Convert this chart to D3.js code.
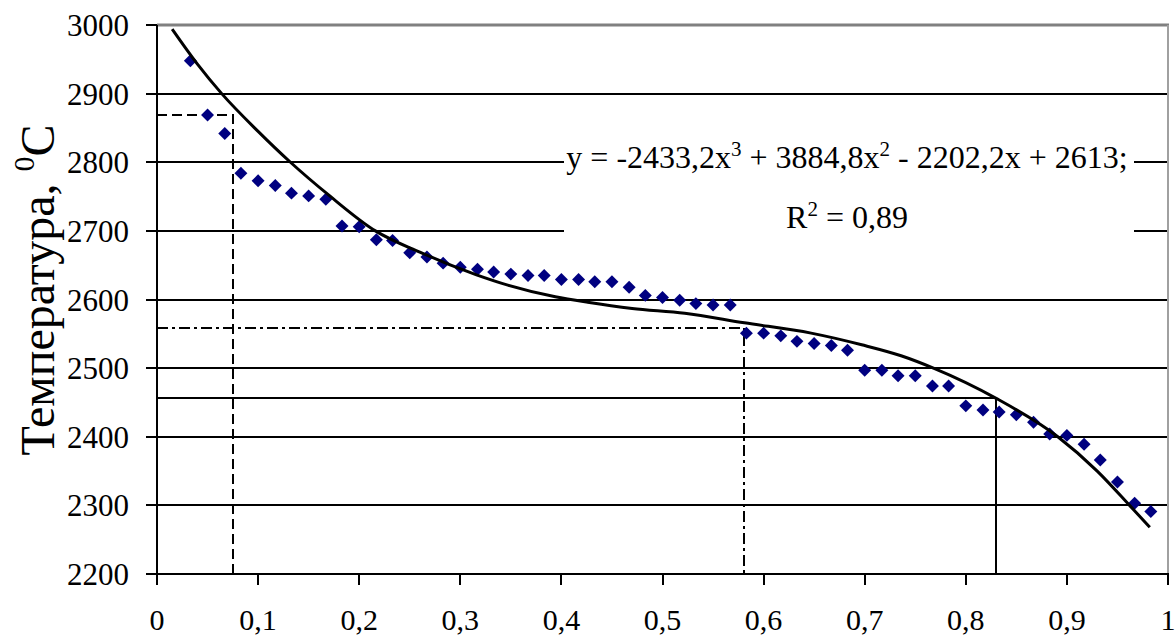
<!DOCTYPE html>
<html>
<head>
<meta charset="utf-8">
<script src="https://cdn.jsdelivr.net/npm/d3@7"></script>
<style>
  html, body { margin: 0; padding: 0; background: #fff; }
  svg { display: block; }
  text { font-family: "Liberation Serif", "Times New Roman", serif; fill: #000; }
</style>
</head>
<body>
<svg id="chart" width="1176" height="637"></svg>
<script>
// ---- data ----
const pointX = [0.033, 0.050, 0.067, 0.083, 0.100, 0.117, 0.133, 0.150, 0.167, 0.183,
  0.200, 0.217, 0.233, 0.250, 0.267, 0.283, 0.300, 0.317, 0.333, 0.350,
  0.367, 0.383, 0.400, 0.417, 0.433, 0.450, 0.467, 0.483, 0.500, 0.517,
  0.533, 0.550, 0.567, 0.583, 0.600, 0.617, 0.633, 0.650, 0.667, 0.683,
  0.700, 0.717, 0.733, 0.750, 0.767, 0.783, 0.800, 0.817, 0.833, 0.850,
  0.867, 0.883, 0.900, 0.917, 0.933, 0.950, 0.967, 0.983];
const pointY = [2948, 2869, 2842, 2784, 2773, 2766, 2755, 2751, 2746, 2707,
  2706, 2687, 2686, 2668, 2662, 2653, 2647, 2644, 2640, 2637,
  2635, 2635, 2629, 2629, 2626, 2626, 2618, 2606, 2603, 2599,
  2594, 2592, 2592, 2551, 2551, 2547, 2539, 2536, 2533, 2526,
  2497, 2497, 2489, 2489, 2474, 2474, 2445, 2439, 2436, 2432,
  2421, 2404, 2402, 2389, 2366, 2334, 2303, 2291];

// trendline
const trendX = [0.015, 0.040, 0.064, 0.100, 0.132, 0.170, 0.216, 0.260, 0.316, 0.347,
  0.394, 0.426, 0.470, 0.522, 0.581, 0.647, 0.697, 0.736, 0.768, 0.830,
  0.891, 0.930, 0.962, 0.982];
const trendY = [2994, 2943, 2900, 2845, 2800, 2752, 2700, 2669, 2636, 2621,
  2604, 2596, 2587, 2580, 2566, 2551, 2534, 2518, 2500, 2456,
  2400, 2350, 2300, 2268];

// reference (projection) lines: [x, y]
const refDashed = [0.0755, 2869];
const refDashDot = [0.581, 2558];
const refSolid = [0.830, 2456];

const xTickValues = [0, 0.1, 0.2, 0.3, 0.4, 0.5, 0.6, 0.7, 0.8, 0.9, 1];
const xTickLabels = ["0", "0,1", "0,2", "0,3", "0,4", "0,5", "0,6", "0,7", "0,8", "0,9", "1"];
const yTickValues = [2200, 2300, 2400, 2500, 2600, 2700, 2800, 2900, 3000];
const yTickLabels = ["2200", "2300", "2400", "2500", "2600", "2700", "2800", "2900", "3000"];

const yTitle = "Температура, ";
const yTitleSup = "0";
const yTitleUnit = "C";

// ---- layout ----
const svg = d3.select("#chart");
const x = d3.scaleLinear().domain([0, 1]).range([157, 1168]);
const y = d3.scaleLinear().domain([2200, 3000]).range([574, 25]);
const rx = v => Math.round(x(v));
const ry = v => Math.round(y(v));

svg.append("rect").attr("width", 1176).attr("height", 637).attr("fill", "#fff");

// gridlines
svg.append("g").selectAll("line")
  .data(yTickValues.filter(v => v > 2200 && v < 3000))
  .join("line")
  .attr("x1", rx(0)).attr("x2", rx(1))
  .attr("y1", d => ry(d)).attr("y2", d => ry(d))
  .attr("stroke", "#000").attr("stroke-width", 2);

// plot border (top, right)
svg.append("line").attr("x1", rx(0)).attr("x2", rx(1) + 1)
  .attr("y1", ry(3000)).attr("y2", ry(3000))
  .attr("stroke", "#808080").attr("stroke-width", 3);
svg.append("line").attr("x1", rx(1)).attr("x2", rx(1))
  .attr("y1", ry(3000)).attr("y2", ry(2200))
  .attr("stroke", "#a0a0a0").attr("stroke-width", 2);

// equation label background
svg.append("rect").attr("x", 564).attr("y", 138).attr("width", 570).attr("height", 104)
  .attr("fill", "#fff");

// reference lines
function refLine(p, dash, w) {
  const g = svg.append("g").attr("fill", "none").attr("stroke", "#000").attr("stroke-width", w);
  if (dash) g.attr("stroke-dasharray", dash);
  g.append("path").attr("d", d3.line()([[rx(0), ry(p[1])], [rx(p[0]), ry(p[1])], [rx(p[0]), ry(2200)]]));
}
refLine(refDashed, "10,5", 2);
refLine(refDashDot, "11,4,3,4", 2);
refLine(refSolid, null, 2);

// scatter points (diamonds)
const pts = pointX.map((v, i) => [v, pointY[i]]);
svg.append("g").selectAll("path")
  .data(pts)
  .join("path")
  .attr("d", d3.symbol(d3.symbolSquare, 84)())
  .attr("transform", d => `translate(${x(d[0])},${y(d[1])}) rotate(45)`)
  .attr("fill", "#000080");

// trend line
const trend = trendX.map((v, i) => [v, trendY[i]]);
svg.append("path")
  .attr("d", d3.line().x(d => x(d[0])).y(d => y(d[1])).curve(d3.curveMonotoneX)(trend))
  .attr("fill", "none").attr("stroke", "#000").attr("stroke-width", 3);

// axes lines
svg.append("line").attr("x1", rx(0)).attr("x2", rx(0)).attr("y1", ry(3000)).attr("y2", ry(2200) + 11)
  .attr("stroke", "#000").attr("stroke-width", 2);
svg.append("line").attr("x1", rx(0) - 11).attr("x2", rx(1) + 1).attr("y1", ry(2200)).attr("y2", ry(2200))
  .attr("stroke", "#000").attr("stroke-width", 2);

// y ticks
svg.append("g").selectAll("line").data(yTickValues).join("line")
  .attr("x1", rx(0) - 11).attr("x2", rx(0)).attr("y1", d => ry(d)).attr("y2", d => ry(d))
  .attr("stroke", "#000").attr("stroke-width", 2);
svg.append("g").selectAll("text").data(yTickValues).join("text")
  .attr("x", 129).attr("y", d => y(d) + 11)
  .attr("text-anchor", "end").attr("font-size", 31)
  .text((d, i) => yTickLabels[i]);

// x ticks
svg.append("g").selectAll("line").data(xTickValues).join("line")
  .attr("x1", d => rx(d)).attr("x2", d => rx(d)).attr("y1", ry(2200)).attr("y2", ry(2200) + 11)
  .attr("stroke", "#000").attr("stroke-width", 2);
svg.append("g").selectAll("text").data(xTickValues).join("text")
  .attr("x", d => x(d)).attr("y", 630)
  .attr("text-anchor", "middle").attr("font-size", 30)
  .text((d, i) => xTickLabels[i]);

// y title
const t = svg.append("text")
  .attr("transform", "translate(54,290) rotate(-90)")
  .attr("text-anchor", "middle").attr("font-size", 48);
t.append("tspan").text(yTitle);
t.append("tspan").attr("font-size", 30).attr("dy", -20).text(yTitleSup);
t.append("tspan").attr("dy", 20).text(yTitleUnit);

// equation
const eq = svg.append("text").attr("x", 847).attr("y", 168)
  .attr("text-anchor", "middle").attr("font-size", 32);
eq.append("tspan").text("y = -2433,2x");
eq.append("tspan").attr("font-size", 21).attr("dy", -12).text("3");
eq.append("tspan").attr("dy", 12).text(" + 3884,8x");
eq.append("tspan").attr("font-size", 21).attr("dy", -12).text("2");
eq.append("tspan").attr("dy", 12).text(" - 2202,2x + 2613;");
const r2 = svg.append("text").attr("x", 847).attr("y", 228)
  .attr("text-anchor", "middle").attr("font-size", 32);
r2.append("tspan").text("R");
r2.append("tspan").attr("font-size", 21).attr("dy", -12).text("2");
r2.append("tspan").attr("dy", 12).text(" = 0,89");
</script>
</body>
</html>
